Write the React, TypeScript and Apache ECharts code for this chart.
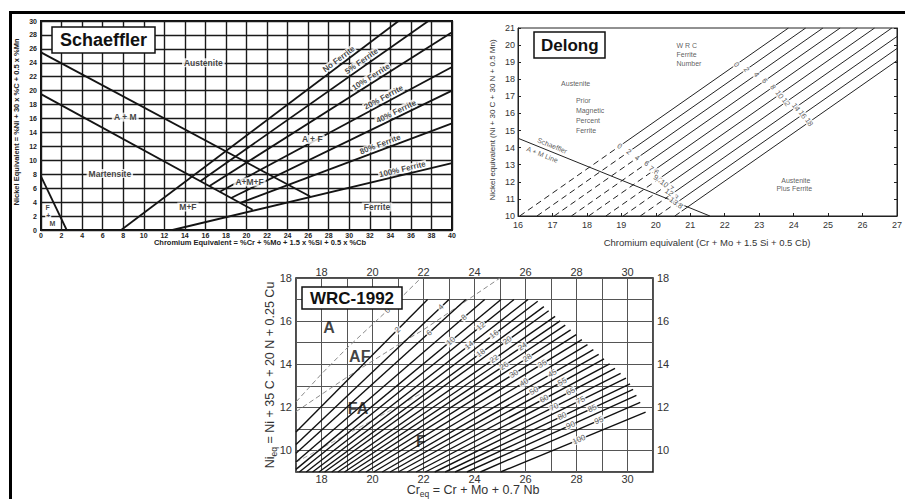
import React, { useEffect, useRef } from "react";
import * as echarts from "echarts";

// ---------------- Schaeffler ----------------
const schAMUpper = [[0, 25.5], [26.2, 4.8]];
const schAMLower = [[0, 19.5], [20.6, 2.9]];
const schFM = [[0, 7.7], [2.5, 0]];
const schFerriteNames = ["No Ferrite", "5% Ferrite", "10% Ferrite", "20% Ferrite", "40% Ferrite", "80% Ferrite", "100% Ferrite"];
const schFerriteStart = [[7.8, 0], [15.5, 7.0], [16.4, 6.3], [17.4, 5.5], [18.5, 4.6], [19.4, 3.9], [12.8, 0]];
const schFerriteEnd = [[34.8, 30], [37.7, 30], [40, 28.4], [40, 23.4], [40, 20.0], [40, 15.3], [40, 9.6]];
const schFerriteLabelX = [29.3, 31.5, 32.4, 33.6, 34.8, 33.2, 35.3];
const schRegionNames = ["Austenite", "A + M", "Martensite", "M+F", "A+M+F", "A + F", "Ferrite"];
const schRegionPos = [[15.8, 24], [8.2, 16.2], [6.7, 8.1], [14.3, 3.3], [20.3, 6.9], [26.4, 13], [32.7, 3.3]];
const schFMNames = ["F", "+", "M"];
const schFMPos = [[0.65, 3.2], [0.7, 2.1], [1.1, 1.0]];

// ---------------- Delong ----------------
const delongStartX = [16.05, 16.55, 17.05, 17.55, 18.05, 18.55, 19.05, 19.55, 20.05, 20.55];
const delongEnd = [[23.85, 21], [24.35, 21], [24.85, 21], [25.35, 21], [25.85, 21], [26.35, 21], [26.85, 21], [27, 20.5], [27, 19.8], [27, 19.09]];
const delongBreakX = [18.95, 19.22, 19.46, 19.73, 19.94, 20.08, 20.32, 20.46, 20.59, 20.75];
const delongPriorLabels = ["0", "2", "4", "6", "7.6", "9.2", "10.7", "12.3", "13.8"];
const delongWrcLabels = ["0", "2", "4", "6", "8", "10", "12", "14", "16", "18"];
const delongWrcLabelX = [22.34, 22.63, 22.92, 23.16, 23.4, 23.59, 23.78, 24.07, 24.26, 24.45];
const delongSchaefflerLine = [[16, 14.55], [21.57, 10]];
const delongTexts = ["W R C", "Ferrite", "Number", "Austenite", "Prior", "Magnetic", "Percent", "Ferrite", "Austenite", "Plus Ferrite"];
const delongTextPos = [[20.6, 20.0], [20.6, 19.46], [20.6, 18.9], [17.25, 17.75], [17.68, 16.78], [17.68, 16.19], [17.68, 15.61], [17.68, 15.03], [23.64, 12.1], [23.5, 11.6]];
const delongLineTexts = ["Schaeffler", "A + M Line"];
const delongLineTextX = [16.93, 16.77];

// ---------------- WRC-1992 ----------------
const wrcFN = [2, 4, 6, 8, 10, 12, 14, 16, 18, 20, 22, 24, 26, 28, 30, 35, 40, 45, 50, 55, 60, 65, 70, 75, 80, 85, 90, 95, 100];
const wrcStart = [[17, 10.86], [17, 10.28], [17, 9.87], [17, 9.46], [17, 9.12], [17.13, 9], [17.4, 9], [17.65, 9], [17.9, 9], [18.12, 9], [18.4, 9], [18.64, 9], [18.9, 9], [19.16, 9], [19.44, 9], [19.74, 9], [20.05, 9], [20.38, 9], [20.69, 9], [21.01, 9], [21.36, 9], [21.71, 9], [22.07, 9], [22.44, 9], [22.85, 9], [23.24, 9], [23.7, 9], [24.23, 9], [25.02, 9]];
const wrcEnd = [[22.16, 17], [23.0, 17], [23.66, 17], [24.4, 17], [25.04, 17], [25.55, 17], [26.1, 17], [26.48, 16.92], [26.72, 16.67], [26.91, 16.48], [27.16, 16.22], [27.36, 16.01], [27.56, 15.81], [27.77, 15.59], [27.99, 15.37], [28.21, 15.14], [28.43, 14.91], [28.66, 14.68], [28.87, 14.46], [29.08, 14.25], [29.3, 14.02], [29.51, 13.81], [29.73, 13.58], [29.94, 13.36], [30.1, 13.09], [30.22, 12.83], [30.35, 12.55], [30.5, 12.23], [30.71, 11.78]];
const wrcLabelX = [20.98, 22.68, 22.22, 23.59, 23.07, 24.25, 23.79, 24.77, 24.25, 25.29, 24.77, 25.88, 25.16, 26.07, 25.55, 26.66, 25.94, 27.05, 26.33, 27.44, 26.73, 27.77, 27.12, 28.16, 27.44, 28.62, 27.77, 28.88, 28.1];
const wrcBoundA = [[17, 12.25], [18, 13.55], [19, 14.75], [20, 15.85], [21, 16.95], [21.9, 18]];
const wrcBoundAF = [[17, 11.8], [18, 12.6], [19, 13.4], [20, 14.15], [21, 14.9], [22, 15.6], [23, 16.4], [24, 17.2], [25, 18]];
const wrcBoundFA = [[17, 9.45], [18, 10.1], [19, 10.75], [20, 11.4], [21, 12.05], [22, 12.7]];
const wrcZeroLabelX = 20.59;
const wrcRegions = ["A", "AF", "FA", "F"];
const wrcRegionPos = [[18.3, 15.7], [19.5, 14.35], [19.43, 11.94], [21.9, 10.4]];

// ---------------- helpers ----------------
type P = number[];
const lineY = (a: P, b: P, x: number) => a[1] + ((b[1] - a[1]) * (x - a[0])) / (b[0] - a[0]);
const angleDeg = (a: P, b: P, pxX: number, pxY: number) =>
  (Math.atan2((b[1] - a[1]) * pxY, (b[0] - a[0]) * pxX) * 180) / Math.PI;

const SCH = [0, 0];
const DEL = [1, 1];
const WRC = [2, 3];

const G_SCH = { left: 41, top: 21, width: 411, height: 209 };
const G_DEL = { left: 518, top: 28, width: 382, height: 188 };
const G_WRC = { left: 296, top: 278, width: 357, height: 194 };

function lineS(data: any[], axes: number[], style: any, z = 2) {
  return {
    type: "line",
    xAxisIndex: axes[0],
    yAxisIndex: axes[1],
    data,
    symbol: "none",
    silent: true,
    lineStyle: style,
    z,
  };
}

function textS(items: any[], axes: number[], base: any, z = 6) {
  return {
    type: "scatter",
    xAxisIndex: axes[0],
    yAxisIndex: axes[1],
    symbolSize: 1,
    silent: true,
    z,
    itemStyle: { color: "rgba(0,0,0,0)" },
    label: { show: true, position: "inside", formatter: "{b}", textBorderWidth: 0, textBorderColor: "transparent", ...base },
    data: items,
  };
}

function buildOption() {
  const series: any[] = [];
  const schPx = [G_SCH.width / 40, G_SCH.height / 30];
  const delPx = [G_DEL.width / 11, G_DEL.height / 11];
  const wrcPx = [G_WRC.width / 14, G_WRC.height / 9];

  // Schaeffler lines
  const schStyle = { color: "#141414", width: 1.8 };
  series.push(lineS(schAMUpper, SCH, schStyle));
  series.push(lineS(schAMLower, SCH, schStyle));
  series.push(lineS(schFM, SCH, schStyle));
  schFerriteStart.forEach((s, i) => series.push(lineS([s, schFerriteEnd[i]], SCH, schStyle)));
  series.push(
    textS(
      schRegionNames.map((n, i) => ({ name: n, value: schRegionPos[i] })),
      SCH,
      { fontSize: 8.5, fontWeight: "bold", fontFamily: "Liberation Sans", color: "#111", backgroundColor: "#fff", padding: [0, 2] }
    )
  );
  series.push(
    textS(
      schFMNames.map((n, i) => ({ name: n, value: schFMPos[i] })),
      SCH,
      { fontSize: 7, lineHeight: 7, fontWeight: "bold", fontFamily: "Liberation Sans", color: "#111", backgroundColor: "#fff", padding: [0, 1] },
      7
    )
  );
  series.push(
    textS(
      schFerriteNames.map((n, i) => {
        const a = schFerriteStart[i];
        const b = schFerriteEnd[i];
        const x = schFerriteLabelX[i];
        return {
          name: n,
          value: [x, lineY(a, b, x)],
          label: { rotate: angleDeg(a, b, schPx[0], schPx[1]), offset: [0, -5.5] },
        };
      }),
      SCH,
      { fontSize: 8, fontWeight: "bold", fontFamily: "Liberation Sans", color: "#111", backgroundColor: "#fff", padding: [0, 1] }
    )
  );

  // Delong lines
  const delStyle = { color: "#222", width: 1 };
  const upperItems: any[] = [];
  const lowerItems: any[] = [];
  delongStartX.forEach((sx, i) => {
    const a = [sx, 10];
    const b = delongEnd[i];
    const bx = delongBreakX[i];
    const bp = [bx, lineY(a, b, bx)];
    series.push(lineS([a, bp], DEL, { ...delStyle, type: [6, 4] }));
    series.push(lineS([bp, b], DEL, delStyle));
    if (i < delongPriorLabels.length) lowerItems.push({ name: delongPriorLabels[i], value: bp });
    const ux = delongWrcLabelX[i];
    upperItems.push({ name: delongWrcLabels[i], value: [ux, lineY(a, b, ux)] });
  });
  series.push(lineS(delongSchaefflerLine, DEL, { color: "#222", width: 1 }));
  const numBase = { fontSize: 7.5, fontFamily: "Liberation Sans", color: "#333", backgroundColor: "#fff", padding: [0, 1] };
  series.push(textS(upperItems, DEL, { ...numBase, rotate: -55 }));
  series.push(textS(lowerItems, DEL, { ...numBase, rotate: -35 }));
  series.push(
    textS(
      delongTexts.map((n, i) => ({ name: n, value: delongTextPos[i], label: { align: "left" } })),
      DEL,
      { fontSize: 7, fontFamily: "Liberation Sans", color: "#333" }
    )
  );
  const sa = delongSchaefflerLine[0];
  const sb = delongSchaefflerLine[1];
  const sAng = angleDeg(sa, sb, delPx[0], delPx[1]);
  series.push(
    textS(
      delongLineTexts.map((n, i) => ({
        name: n,
        value: [delongLineTextX[i], lineY(sa, sb, delongLineTextX[i])],
        label: { rotate: sAng, offset: [0, i === 0 ? -6 : 6] },
      })),
      DEL,
      { fontSize: 7, fontFamily: "Liberation Sans", color: "#333" }
    )
  );

  // WRC
  const bStyle = { color: "#8a8a8a", width: 1, type: [5, 3] };
  series.push(lineS(wrcBoundA, WRC, bStyle, 3));
  series.push(lineS(wrcBoundAF, WRC, bStyle, 3));
  series.push(lineS(wrcBoundFA, WRC, { ...bStyle, color: "#aaa" }, 3));
  const wrcItems: any[] = [];
  wrcFN.forEach((fn, i) => {
    const a = wrcStart[i];
    const b = wrcEnd[i];
    series.push(lineS([a, b], WRC, { color: "#111", width: 1.4 }, 4));
    const x = wrcLabelX[i];
    wrcItems.push({
      name: String(fn),
      value: [x, lineY(a, b, x)],
      label: { rotate: angleDeg(a, b, wrcPx[0], wrcPx[1]) },
    });
  });
  const za = wrcBoundA[3];
  const zb = wrcBoundA[4];
  wrcItems.push({
    name: "0",
    value: [wrcZeroLabelX, lineY(za, zb, wrcZeroLabelX)],
    label: { rotate: angleDeg(za, zb, wrcPx[0], wrcPx[1]) },
  });
  series.push(
    textS(wrcItems, WRC, { fontSize: 8, fontFamily: "Liberation Sans", color: "#333", backgroundColor: "#fff", padding: [0, 1] }, 7)
  );
  series.push(
    textS(
      wrcRegions.map((n, i) => ({ name: n, value: wrcRegionPos[i] })),
      WRC,
      { fontSize: 16, fontWeight: "bold", fontFamily: "Liberation Sans", color: "#111" },
      8
    )
  );

  const schLabel = { fontSize: 7, fontWeight: "bold", fontFamily: "Liberation Sans", color: "#222" };
  const delLabel = { fontSize: 9, fontFamily: "Liberation Sans", color: "#333" };
  const wrcLabel = {
    fontSize: 11,
    fontFamily: "Liberation Sans",
    color: "#333",
    formatter: (v: number) => (Math.round(v) % 2 === 0 ? String(v) : ""),
  };

  const titleBase = (text: string, left: number, top: number, pad: number[]) => ({
    text,
    left,
    top,
    padding: pad,
    borderColor: "#111",
    borderWidth: 1.5,
    backgroundColor: "#fff",
    textStyle: { fontSize: text === "Schaeffler" ? 18 : 17, lineHeight: 18, fontWeight: "bold", fontFamily: "Liberation Sans", color: "#111" },
    z: 10,
  });

  const subRich = {
    n: { fontSize: 12.5, lineHeight: 16, fontFamily: "Liberation Sans", fill: "#333" },
    s: { fontSize: 8.5, lineHeight: 7, verticalAlign: "bottom", fontFamily: "Liberation Sans", fill: "#333" },
  };

  return {
    animation: false,
    backgroundColor: "#fff",
    title: [
      titleBase("Schaeffler", 52, 27, [4, 8]),
      titleBase("Delong", 534, 32, [4, 7]),
      titleBase("WRC-1992", 302, 287, [2, 8]),
    ],
    grid: [
      { ...G_SCH, show: true, borderColor: "#111", borderWidth: 2 },
      { ...G_DEL, show: true, borderColor: "#222", borderWidth: 1 },
      { ...G_WRC, show: true, borderColor: "#111", borderWidth: 1.5 },
    ],
    xAxis: [
      {
        gridIndex: 0, type: "value", min: 0, max: 40, interval: 2,
        axisLine: { show: false }, axisTick: { show: false },
        splitLine: { show: true, lineStyle: { color: "#1a1a1a", width: 1.4 } },
        axisLabel: { ...schLabel, margin: 2 },
      },
      {
        gridIndex: 1, type: "value", min: 16, max: 27, interval: 1,
        axisLine: { show: true, lineStyle: { color: "#222", width: 1 } },
        axisTick: { show: true, inside: true, length: 3, lineStyle: { color: "#222" } },
        splitLine: { show: false },
        axisLabel: { ...delLabel, margin: 4 },
      },
      {
        gridIndex: 2, type: "value", min: 17, max: 31, interval: 1, position: "bottom",
        axisLine: { show: false }, axisTick: { show: false },
        splitLine: { show: true, lineStyle: { color: "#555", width: 1 } },
        axisLabel: { ...wrcLabel, margin: 1 },
      },
      {
        gridIndex: 2, type: "value", min: 17, max: 31, interval: 1, position: "top",
        axisLine: { show: false }, axisTick: { show: false },
        splitLine: { show: false },
        axisLabel: { ...wrcLabel, margin: 1 },
      },
    ],
    yAxis: [
      {
        gridIndex: 0, type: "value", min: 0, max: 30, interval: 2,
        axisLine: { show: false }, axisTick: { show: false },
        splitLine: { show: true, lineStyle: { color: "#1a1a1a", width: 1.4 } },
        axisLabel: { ...schLabel, margin: 4 },
      },
      {
        gridIndex: 1, type: "value", min: 10, max: 21, interval: 1, position: "left",
        axisLine: { show: true, lineStyle: { color: "#222", width: 1 } },
        axisTick: { show: true, inside: true, length: 3, lineStyle: { color: "#222" } },
        splitLine: { show: false },
        axisLabel: { ...delLabel, margin: 3 },
      },
      {
        gridIndex: 1, type: "value", min: 10, max: 21, interval: 1, position: "right",
        axisLine: { show: true, lineStyle: { color: "#222", width: 1 } },
        axisTick: { show: true, inside: true, length: 3, lineStyle: { color: "#222" } },
        splitLine: { show: false },
        axisLabel: { show: false },
      },
      {
        gridIndex: 2, type: "value", min: 9, max: 18, interval: 1, position: "left",
        axisLine: { show: false }, axisTick: { show: false },
        splitLine: { show: true, lineStyle: { color: "#555", width: 1 } },
        axisLabel: { ...wrcLabel, margin: 4 },
      },
      {
        gridIndex: 2, type: "value", min: 9, max: 18, interval: 1, position: "right",
        axisLine: { show: false }, axisTick: { show: false },
        splitLine: { show: false },
        axisLabel: { ...wrcLabel, margin: 4 },
      },
    ],
    graphic: [
      { type: "rect", shape: { x: 9, y: 11, width: 896, height: 3 }, style: { fill: "#000" }, z: 20 },
      { type: "rect", shape: { x: 9, y: 11, width: 3, height: 488 }, style: { fill: "#000" }, z: 20 },
      {
        type: "text", x: 260, y: 242, z: 20,
        style: { text: "Chromium Equivalent = %Cr + %Mo + 1.5 x %Si + 0.5 x %Cb", fontSize: 7.5, fontWeight: "bold", fontFamily: "Liberation Sans", fill: "#222", align: "center", verticalAlign: "middle" },
      },
      {
        type: "text", x: 16, y: 122, rotation: Math.PI / 2, z: 20,
        style: { text: "Nickel Equivalent = %Ni + 30 x %C + 0.5 x %Mn", fontSize: 7.5, fontWeight: "bold", fontFamily: "Liberation Sans", fill: "#222", align: "center", verticalAlign: "middle" },
      },
      {
        type: "text", x: 707, y: 242, z: 20,
        style: { text: "Chromium equivalent (Cr + Mo + 1.5 Si + 0.5 Cb)", fontSize: 9.5, fontFamily: "Liberation Sans", fill: "#333", align: "center", verticalAlign: "middle" },
      },
      {
        type: "text", x: 492, y: 120, rotation: Math.PI / 2, z: 20,
        style: { text: "Nickel equivalent (Ni + 30 C + 30 N + 0.5 Mn)", fontSize: 8, fontFamily: "Liberation Sans", fill: "#333", align: "center", verticalAlign: "middle" },
      },
      {
        type: "text", x: 473, y: 490, z: 20,
        style: { text: "{n|Cr}{s|eq}{n| = Cr + Mo + 0.7 Nb}", align: "center", verticalAlign: "middle", rich: subRich },
      },
      {
        type: "text", x: 270, y: 375, rotation: Math.PI / 2, z: 20,
        style: { text: "{n|Ni}{s|eq}{n| = Ni + 35 C + 20 N + 0.25 Cu}", align: "center", verticalAlign: "middle", rich: subRich },
      },
    ],
    series,
  };
}

export default function App() {
  const ref = useRef<HTMLDivElement>(null);
  useEffect(() => {
    if (!ref.current) return;
    const chart = echarts.init(ref.current, null, { renderer: "svg" });
    chart.setOption(buildOption() as any);
    return () => chart.dispose();
  }, []);
  return (
    <div
      ref={ref}
      style={{ position: "absolute", left: 0, top: 0, width: 905, height: 499, background: "#fff" }}
    />
  );
}
